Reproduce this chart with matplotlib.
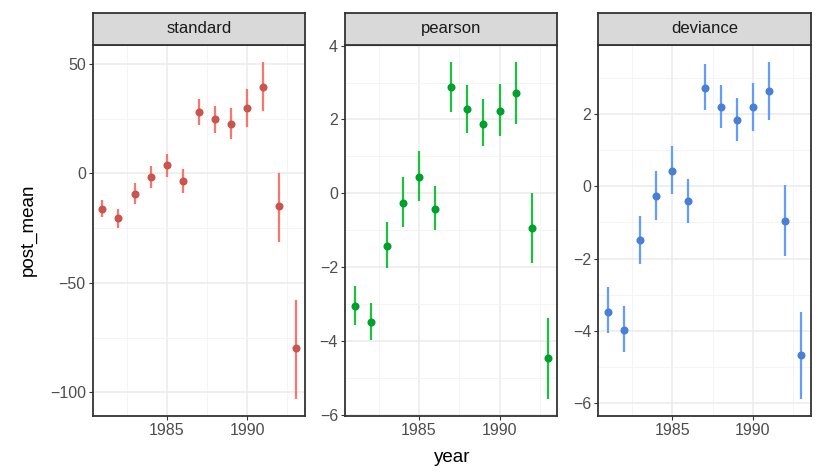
import matplotlib.pyplot as plt
import numpy as np
from matplotlib.ticker import MultipleLocator

plt.rcParams['font.family'] = ['Liberation Sans', 'DejaVu Sans']

years = list(range(1981, 1994))

std_mean = [-16.1, -20.5, -9.3, -1.8, 3.7, -3.5, 27.9, 24.7, 22.7, 29.7, 39.6, -15.1, -79.6]
std_hi = [-12.3, -16.4, -4.6, 3.2, 8.8, 1.8, 33.9, 30.9, 29.7, 38.4, 51.0, 0.3, -58.0]
std_lo = [-20.0, -24.8, -13.8, -6.7, -1.7, -9.0, 22.1, 18.3, 15.5, 21.1, 28.5, -31.4, -102.9]

pea_mean = [-3.05, -3.50, -1.44, -0.25, 0.44, -0.42, 2.87, 2.29, 1.88, 2.24, 2.71, -0.94, -4.46]
pea_hi = [-2.52, -2.98, -0.79, 0.43, 1.14, 0.21, 3.57, 2.93, 2.55, 2.96, 3.57, 0.01, -3.38]
pea_lo = [-3.56, -3.98, -2.03, -0.90, -0.21, -1.00, 2.19, 1.64, 1.27, 1.56, 1.88, -1.89, -5.57]

dev_mean = [-3.47, -3.98, -1.49, -0.26, 0.43, -0.42, 2.73, 2.20, 1.83, 2.18, 2.63, -0.96, -4.67]
dev_hi = [-2.80, -3.32, -0.81, 0.43, 1.12, 0.20, 3.37, 2.81, 2.45, 2.87, 3.45, 0.03, -3.48]
dev_lo = [-4.07, -4.59, -2.15, -0.92, -0.21, -1.02, 2.12, 1.60, 1.24, 1.52, 1.84, -1.94, -5.88]

panels = [
    ('standard', std_mean, std_lo, std_hi, '#F8766D', '#C9564E', 50),
    ('pearson', pea_mean, pea_lo, pea_hi, '#1DC03F', '#00A02D', 2),
    ('deviance', dev_mean, dev_lo, dev_hi, '#619CFF', '#4A7FD6', 2),
]

W, H = 818, 476
fig = plt.figure(figsize=(W / 100, H / 100), dpi=100)

lefts = [92.7, 345.0, 598.3]
pw = 212.5
ptop, pbot = 44.7, 415.7
stop = 12.7

border = '#333333'
for (name, mean, lo, hi, barc, ptc, step), left in zip(panels, lefts):
    ax = fig.add_axes([left / W, 1 - pbot / H, pw / W, (pbot - ptop) / H])
    ax.vlines(years, lo, hi, color=barc, lw=1.6, zorder=3)
    ax.plot(years, mean, 'o', color=ptc, ms=5.8, mew=0, zorder=4)

    ymin, ymax = min(lo), max(hi)
    pad = (ymax - ymin) * 0.05
    ax.set_ylim(ymin - pad, ymax + pad)
    ax.set_xlim(1981 - 0.6, 1993 + 0.6)

    ax.xaxis.set_major_locator(MultipleLocator(5))
    ax.xaxis.set_minor_locator(MultipleLocator(2.5))
    ax.yaxis.set_major_locator(MultipleLocator(step))
    ax.yaxis.set_minor_locator(MultipleLocator(step / 2))
    ax.grid(which='major', color='#EBEBEB', lw=1.1, zorder=0)
    ax.grid(which='minor', color='#F3F3F3', lw=0.6, zorder=0)
    ax.set_axisbelow(True)
    ax.tick_params(which='minor', length=0)
    ax.tick_params(which='major', length=3, width=0.8, color=border,
                   labelcolor='#4D4D4D', labelsize=11.5, pad=2)
    ax.yaxis.set_major_formatter(plt.FuncFormatter(
        lambda v, p: ('%g' % v).replace('-', '\u2212')))
    for sp in ax.spines.values():
        sp.set_color(border)
        sp.set_linewidth(1.3)

    sax = fig.add_axes([left / W, 1 - ptop / H, pw / W, (ptop - stop) / H])
    sax.set_facecolor('#D9D9D9')
    sax.set_xticks([])
    sax.set_yticks([])
    for sp in sax.spines.values():
        sp.set_color(border)
        sp.set_linewidth(1.3)
    sax.text(0.5, 0.5, name, ha='center', va='center', fontsize=12,
             color='#1A1A1A', transform=sax.transAxes)

fig.text(451.7 / W, 1 - 458 / H, 'year', ha='center', va='center', fontsize=13.5)
fig.text(28 / W, 1 - 230 / H, 'post_mean', ha='center', va='center',
         rotation=90, fontsize=13.5)

fig.savefig('out.png', dpi=100)
